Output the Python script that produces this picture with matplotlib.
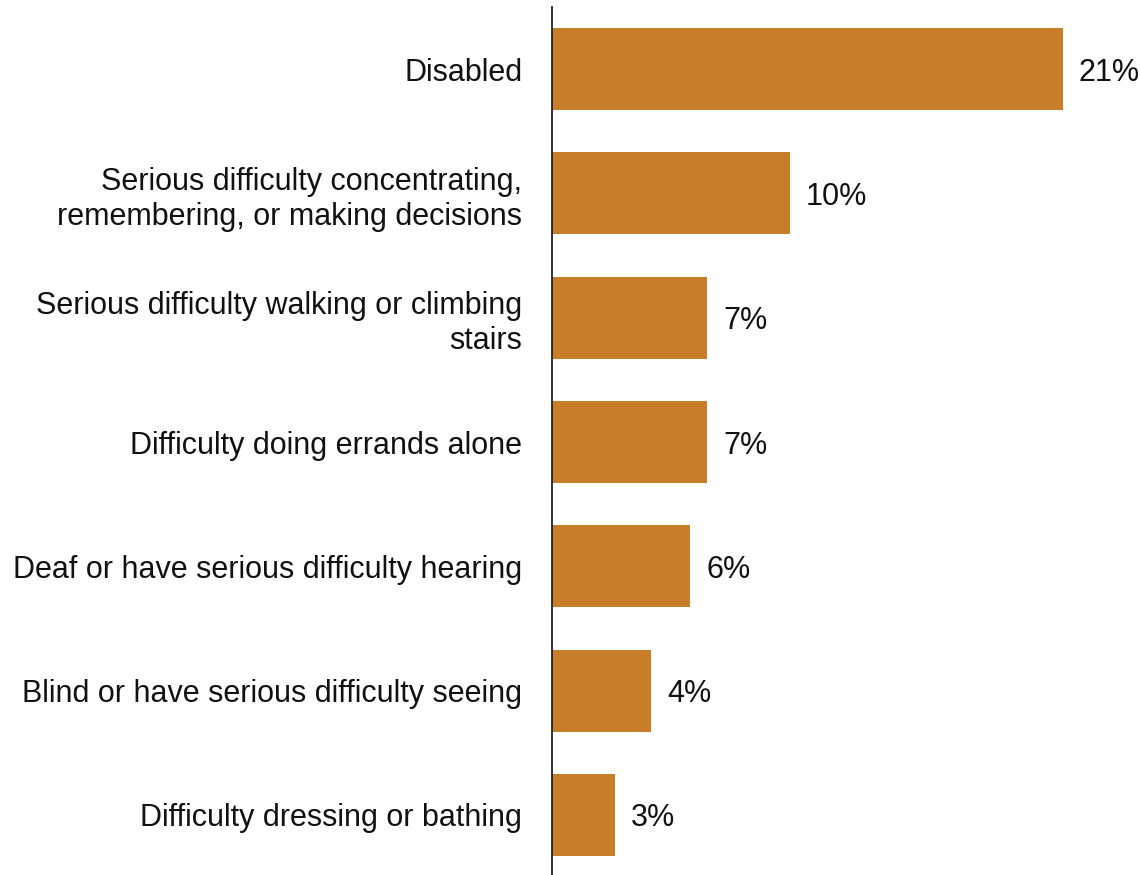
"""Horizontal bar chart: share reporting each type of disability."""

import matplotlib
matplotlib.use("Agg")
import matplotlib.pyplot as plt
import numpy as np

categories = [
    "Disabled",
    "Serious difficulty concentrating,\nremembering, or making decisions",
    "Serious difficulty walking or climbing\nstairs",
    "Difficulty doing errands alone",
    "Deaf or have serious difficulty hearing",
    "Blind or have serious difficulty seeing",
    "Difficulty dressing or bathing",
]
values = [21.0, 9.8, 6.4, 6.4, 5.7, 4.1, 2.6]
value_labels = ["21%", "10%", "7%", "7%", "6%", "4%", "3%"]

BAR_COLOR = "#C87D2B"
plt.rcParams["font.family"] = ["Liberation Sans", "DejaVu Sans"]

W, H = 1140, 875
fig = plt.figure(figsize=(W / 100, H / 100), dpi=100)
left_px, top_px = 551.5, 7
ax = fig.add_axes([left_px / W, 0, (W - left_px) / W, (H - top_px) / H])

px_per_unit = 511 / 21.0
ax.set_xlim(0, (W - left_px) / px_per_unit)
ax.set_ylim(6.4826, -0.4987)

y = np.arange(len(categories))
ax.barh(y, values, height=0.66, color=BAR_COLOR, edgecolor="none")

for yi, v, lab in zip(y, values, value_labels):
    ax.annotate(lab, xy=(v, yi), xytext=(16, 0), textcoords="offset pixels",
                va="center_baseline", ha="left", fontsize=22, color="#111111")

ax.set_yticks(y)
ax.set_yticklabels(categories, fontsize=22, color="#111111", linespacing=1.22)
# pad is in points: ~29 px gap between label and axis line
ax.tick_params(axis="y", length=0, pad=21)
ax.set_xticks([])

for side in ("top", "right", "bottom"):
    ax.spines[side].set_visible(False)
ax.spines["left"].set_color("#222222")
ax.spines["left"].set_linewidth(1.3)

fig.savefig("out.png", dpi=100)
plt.close(fig)
